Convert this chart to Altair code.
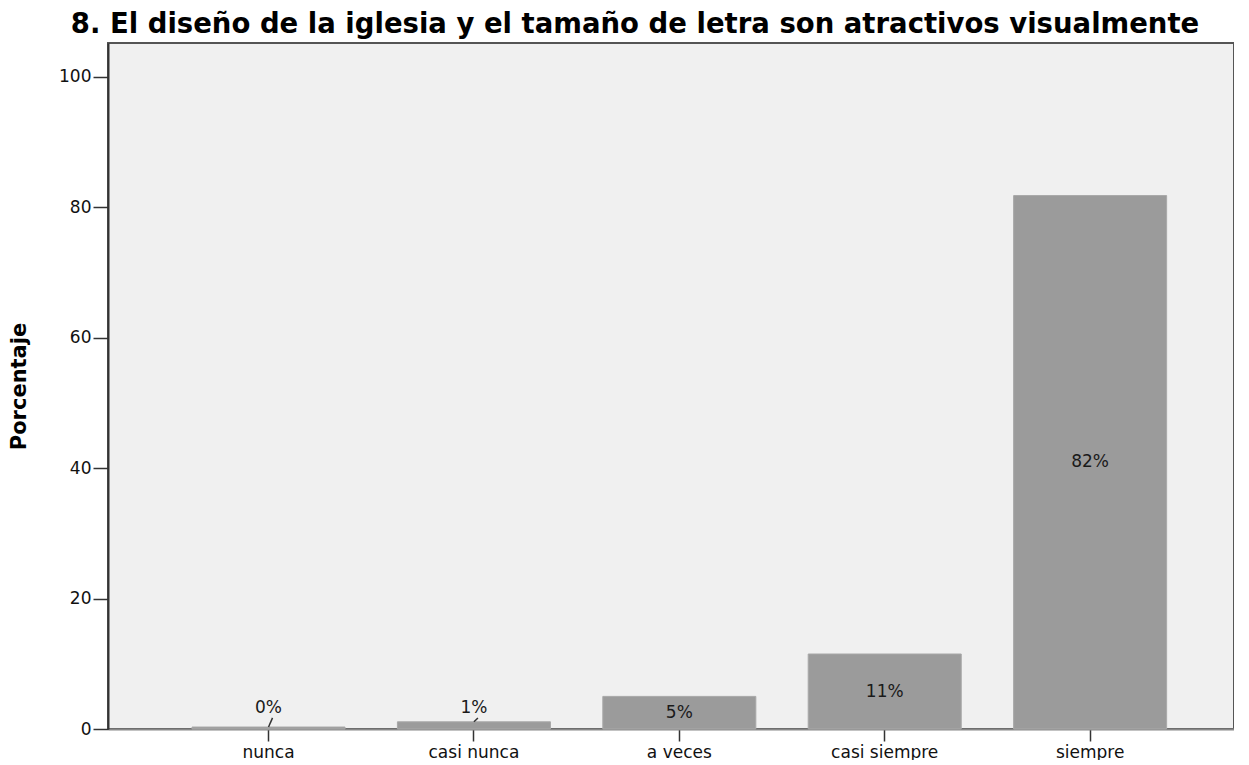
import altair as alt
import pandas as pd

categories = ["nunca", "casi nunca", "a veces", "casi siempre", "siempre"]
percentages = [0.3, 1.1, 5.0, 11.5, 81.8]
label_texts = ["0%", "1%", "5%", "11%", "82%"]
y_ticks = [0, 20, 40, 60, 80, 100]

title_text = "8. El diseño de la iglesia y el tamaño de letra son atractivos visualmente"

SMALL = 3.0
LABEL_ABOVE = 3.2
LEADER_TOP = 1.7

df = pd.DataFrame({"cat": categories, "pct": percentages, "lab": label_texts})
df["label_y"] = [v / 2 if v >= SMALL else LABEL_ABOVE for v in percentages]
df["leader_top"] = [LEADER_TOP if v < SMALL else None for v in percentages]

FONT = "DejaVu Sans"

x_scale = alt.Scale(domain=categories, paddingInner=0.255, paddingOuter=0.3685, align=0.555)
y_scale = alt.Scale(domain=[0, 105.2], nice=False)

x_enc = alt.X("cat:N", scale=x_scale, sort=categories,
              axis=alt.Axis(title=None, labelAngle=0, labelFont=FONT, labelFontSize=17,
                            labelColor="#111", tickSize=12, tickColor="#333", tickWidth=1.5,
                            labelPadding=3, domainColor="#888", domainWidth=2))

bars = alt.Chart(df).mark_bar(color="#9b9b9b", stroke="#a8a8a8", strokeWidth=1).encode(
    x=x_enc,
    y=alt.Y("pct:Q", scale=y_scale,
            axis=alt.Axis(title="Porcentaje", values=y_ticks, grid=False, labelFont=FONT,
                          labelFontSize=17, labelColor="#111", tickSize=15, tickColor="#333",
                          tickWidth=1.5, labelPadding=2, domainColor="#333", domainWidth=2,
                          titleFont=FONT, titleFontSize=21, titleFontWeight="bold",
                          titleColor="#000", titlePadding=29)),
)

labels = alt.Chart(df).mark_text(font=FONT, fontSize=17, color="#1a1a1a", baseline="middle").encode(
    x=alt.X("cat:N", scale=x_scale, sort=categories),
    y=alt.Y("label_y:Q", scale=y_scale),
    text="lab:N",
)

leaders = alt.Chart(df).transform_filter("datum.leader_top != null").mark_rule(
    color="#333", strokeWidth=1.5, x2Offset=4).encode(
    x=alt.X("cat:N", scale=x_scale, sort=categories),
    x2=alt.X2("cat:N"),
    y=alt.Y("pct:Q", scale=y_scale),
    y2=alt.Y2("leader_top:Q"),
)

chart = alt.layer(bars, leaders, labels).properties(
    width=1126,
    height=686,
    padding={"left": 0, "top": 2, "right": 0, "bottom": 0},
    background="white",
    title=alt.TitleParams(title_text, font=FONT, fontSize=27.5, fontWeight="bold",
                          color="#000", anchor="middle", dx=-36, offset=5),
).configure_view(
    fill="#f0f0f0", stroke="#555", strokeWidth=2
)

chart.save("out.html", embed_options={"renderer": "svg", "actions": False})
